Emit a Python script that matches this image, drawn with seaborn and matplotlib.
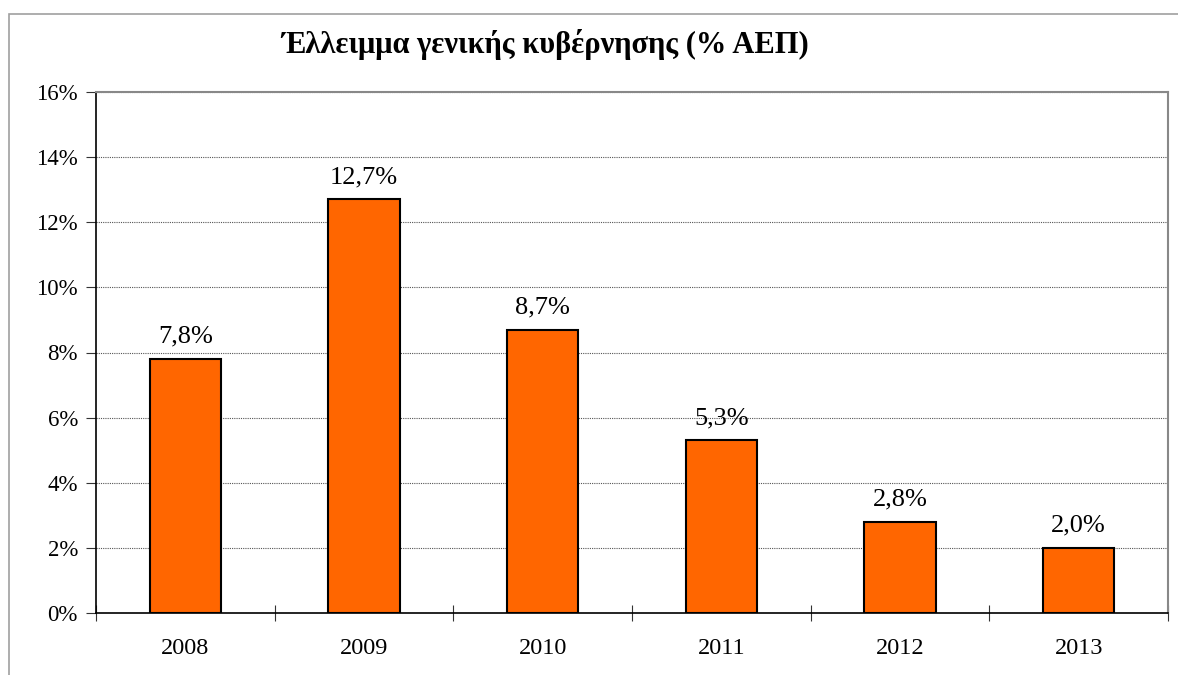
import matplotlib
matplotlib.use('Agg')
import matplotlib.pyplot as plt
import seaborn as sns
import pandas as pd
from matplotlib.patches import Rectangle
from matplotlib.ticker import FuncFormatter, FixedLocator

years = ['2008', '2009', '2010', '2011', '2012', '2013']
deficit = [7.8, 12.7, 8.7, 5.3, 2.8, 2.0]
title = 'Έλλειμμα γενικής κυβέρνησης (% ΑΕΠ)'

df = pd.DataFrame({'year': years, 'deficit': deficit})

sns.set_theme(style='white')
plt.rcParams['font.family'] = ['Liberation Serif', 'DejaVu Serif']
plt.rcParams['text.color'] = 'black'
plt.rcParams['xtick.color'] = 'black'
plt.rcParams['ytick.color'] = 'black'

fig = plt.figure(figsize=(11.78, 6.75), dpi=100)
ax = fig.add_axes([96 / 1178, 62 / 675, 1072 / 1178, 521 / 675])

sns.barplot(data=df, x='year', y='deficit', color='#ff6600', saturation=1,
            width=0.4, edgecolor='black', linewidth=1.5, ax=ax, zorder=3)

ax.set_ylim(0, 16)
ax.set_xlim(-0.5, len(years) - 0.5)
ax.set_yticks(range(0, 17, 2))
ax.yaxis.set_major_formatter(FuncFormatter(lambda v, p: f'{int(v)}%'))
ax.yaxis.grid(True, color='#555555', linestyle=(0, (1, 1)), linewidth=0.8, zorder=0)
ax.set_xlabel('')
ax.set_ylabel('')

# x ticks sit between categories, labels centred under bars
ax.xaxis.set_minor_locator(FixedLocator([i + 0.5 for i in range(-1, len(years))]))
ax.tick_params(axis='x', which='minor', length=12, width=0.8, color='#333333',
               direction='inout', bottom=True)
ax.tick_params(axis='x', which='major', length=0, pad=18, labelsize=17.5,
               labelcolor='black')
ax.tick_params(axis='y', length=7, width=0.8, color='#333333', direction='out',
               left=True, labelsize=16.5, pad=6, labelcolor='black')

for s in ['left', 'bottom']:
    ax.spines[s].set_color('black')
    ax.spines[s].set_linewidth(1.2)
for s in ['top', 'right']:
    ax.spines[s].set_color('#888888')
    ax.spines[s].set_linewidth(1.5)

for i, v in enumerate(deficit):
    ax.text(i, v + 0.35, f'{v:.1f}%'.replace('.', ','), ha='center', va='bottom',
            fontsize=19, color='black')

fig.text(545 / 1178, 1 - 45 / 675, title, ha='center', va='center',
         fontsize=22, fontweight='bold', color='black')

# outer chart frame
fig.patches.append(Rectangle((9 / 1178, -0.1), 1.2, 1 - 14 / 675 + 0.1,
                             transform=fig.transFigure, fill=False,
                             edgecolor='#a0a0a0', linewidth=1.2))

fig.savefig('out.png', dpi=100, facecolor='white')
